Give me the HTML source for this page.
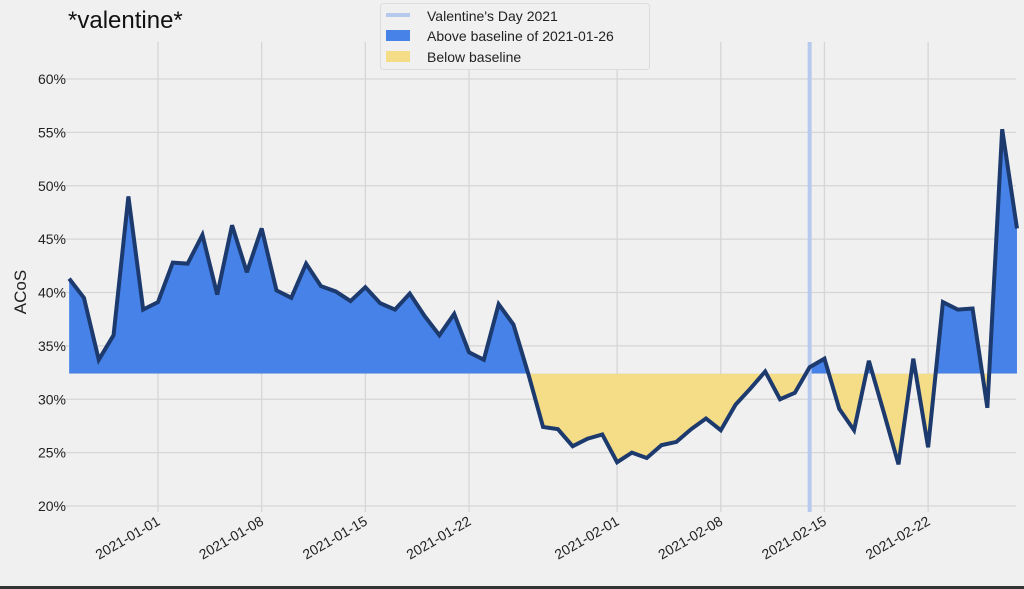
<!DOCTYPE html>
<html><head><meta charset="utf-8"><style>
html,body{margin:0;padding:0;background:#f0f0f0;}
svg{display:block;font-family:"Liberation Sans","DejaVu Sans",sans-serif;}
</style></head><body>
<svg id="chart" width="1024" height="589" viewBox="0 0 1024 589">
<rect x="0" y="0" width="1024" height="589" fill="#f0f0f0"/>
<rect x="0" y="586" width="1024" height="3" fill="#333"/>
<g id="grid"></g>
<defs>
<clipPath id="clipAbove"><rect id="ca" x="0" y="0" width="1024" height="0"/></clipPath>
<clipPath id="clipBelow"><rect id="cb" x="0" y="0" width="1024" height="589"/></clipPath>
</defs>
<g id="fills"></g>
<g id="vline"></g>
<g id="line"></g>
<g id="labels"></g>
<text x="68" y="28" font-size="24" fill="#111">*valentine*</text>
<text x="26" y="292" font-size="17" fill="#222" text-anchor="middle" transform="rotate(-90 26 292)">ACoS</text>
<g>
<rect x="380.5" y="3.5" width="269" height="66" rx="3" fill="#f0f0f0" stroke="#dcdcdc"/>
<rect x="386" y="13" width="24" height="4" fill="#b8c9ee"/>
<text x="427" y="21" font-size="14" fill="#222">Valentine's Day 2021</text>
<rect x="386" y="30" width="24" height="11" fill="#4682e8"/>
<text x="427" y="41" font-size="14" fill="#222">Above baseline of 2021-01-26</text>
<rect x="386" y="51" width="24" height="11" fill="#f5dc87"/>
<text x="427" y="62" font-size="14" fill="#222">Below baseline</text>
</g>
</svg>
<script>
const values = [41.3,39.5,33.7,36.0,49.0,38.4,39.1,42.8,42.7,45.4,39.8,46.3,41.9,46.0,40.2,39.5,42.7,40.6,40.1,39.2,40.5,39.0,38.4,39.9,37.8,36.0,38.0,34.4,33.7,38.9,37.0,32.4,27.4,27.2,25.6,26.3,26.7,24.1,25.0,24.5,25.7,26.0,27.2,28.2,27.1,29.5,31.0,32.6,30.0,30.6,33.0,33.8,29.1,27.1,33.6,28.8,23.9,33.8,25.5,39.1,38.4,38.5,29.2,55.3,46.0];
const startDay = -6; // 2020-12-26, days relative to 2021-01-01
const baseline = 32.4;
const valentineDay = 44; // 2021-02-14
const yTicks = [20,25,30,35,40,45,50,55,60];
const xTickDays = [0,7,14,21,31,38,45,52];
const xTickLabels = ["2021-01-01","2021-01-08","2021-01-15","2021-01-22","2021-02-01","2021-02-08","2021-02-15","2021-02-22"];

const NS="http://www.w3.org/2000/svg";
const X = d => 158 + d*14.81;
const Y = v => 506 - (v-20)*10.675;
function mk(tag, attrs, parent){const e=document.createElementNS(NS,tag);for(const k in attrs)e.setAttribute(k,attrs[k]);parent.appendChild(e);return e;}
const grid=document.getElementById('grid'), labels=document.getElementById('labels');
yTicks.forEach(t=>{
  const l=mk('line',{x1:57,x2:1016,y1:Y(t),y2:Y(t),stroke:'#d6d6d6','stroke-width':1.3},grid);
  
  
  const tx=mk('text',{x:66,y:Y(t)+5,'font-size':14,'text-anchor':'end',fill:'#222'},labels);
  tx.textContent=t+'%';
  
  
});
xTickDays.forEach((d,i)=>{
  const l=mk('line',{x1:X(d),x2:X(d),y1:42,y2:512,stroke:'#d6d6d6','stroke-width':1.3},grid);
  
  
  const tx=mk('text',{x:X(d)+3,y:524,'font-size':14,'text-anchor':'end',fill:'#222',transform:`rotate(-30 ${X(d)+3} 524)`},labels);
  tx.textContent=xTickLabels[i];
  
  
});
const by=Y(baseline);
document.getElementById('ca').setAttribute('height',by);
document.getElementById('cb').setAttribute('y',by);
const pts=values.map((v,i)=>[X(startDay+i),Y(v)]);
const poly=pts.map(p=>p.join(',')).join(' ')+` ${pts[pts.length-1][0]},${by} ${pts[0][0]},${by}`;
const fills=document.getElementById('fills');
const fa=mk('polygon',{points:poly,fill:'#4682e8','clip-path':'url(#clipAbove)'},fills);


const fb=mk('polygon',{points:poly,fill:'#f5dc87','clip-path':'url(#clipBelow)'},fills);


const vl=mk('line',{x1:X(valentineDay),x2:X(valentineDay),y1:42,y2:512,stroke:'#b8c9ee','stroke-width':4},document.getElementById('vline'));


const ln=mk('polyline',{points:pts.map(p=>p.join(',')).join(' '),fill:'none',stroke:'#1c3a6e','stroke-width':4,'stroke-linejoin':'miter','stroke-miterlimit':3},document.getElementById('line'));


</script>
</body></html>
